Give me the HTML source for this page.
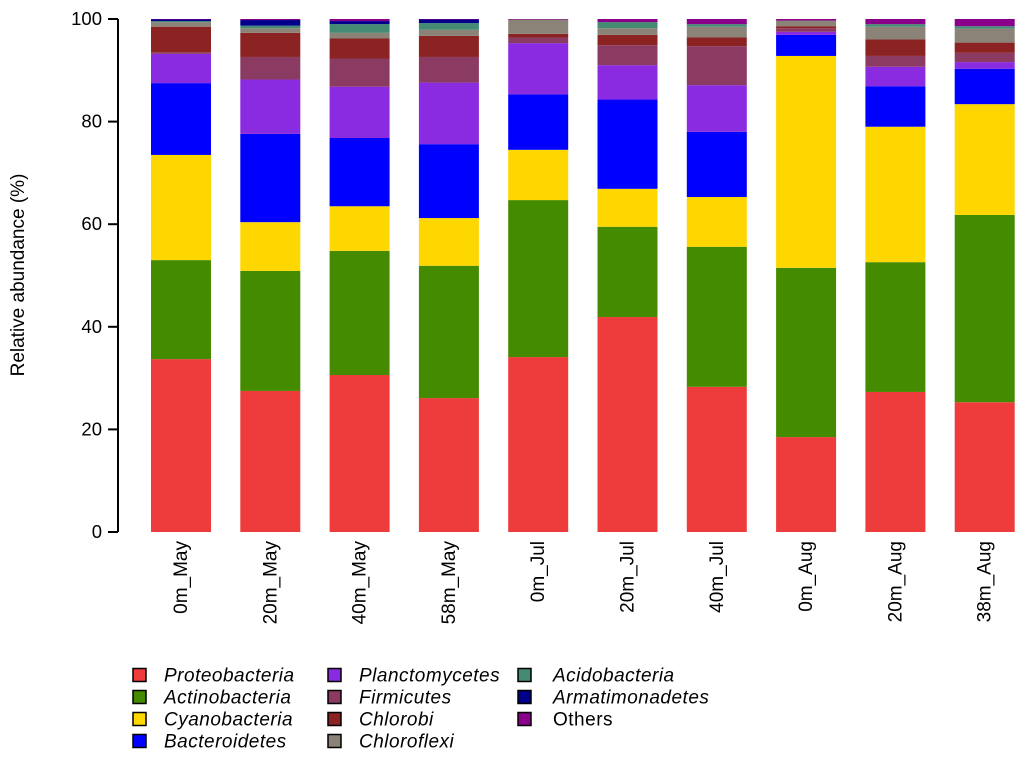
<!DOCTYPE html>
<html><head><meta charset="utf-8"><style>
body{margin:0;background:#fff;}
svg text{font-family:"Liberation Sans",Arial,sans-serif;fill:#000;}
</style></head><body>
<svg id="chart" width="1024" height="759" xmlns="http://www.w3.org/2000/svg">
<g id="axes"></g><g id="bars"></g><g id="legend"></g>
<text transform="translate(24,275) rotate(-90)" text-anchor="middle" font-size="19">Relative abundance (%)</text>
</svg>
<script>
const categories=["0m_May","20m_May","40m_May","58m_May","0m_Jul","20m_Jul","40m_Jul","0m_Aug","20m_Aug","38m_Aug"];
const seriesNames=["Proteobacteria","Actinobacteria","Cyanobacteria","Bacteroidetes","Planctomycetes","Firmicutes","Chlorobi","Chloroflexi","Acidobacteria","Armatimonadetes","Others"];
const proteobacteria=[33.7,27.5,30.6,26.1,34.1,41.9,28.3,18.5,27.3,25.3];
const actinobacteria=[19.3,23.4,24.2,25.8,30.6,17.6,27.3,33.0,25.3,36.5];
const cyanobacteria=[20.5,9.5,8.7,9.3,9.8,7.4,9.7,41.3,26.4,21.6];
const bacteroidetes=[14.0,17.2,13.3,14.4,10.8,17.4,12.7,4.1,7.9,6.9];
const planctomycetes=[5.7,10.6,10.0,12.0,10.0,6.7,9.1,0.6,3.8,1.3];
const firmicutes=[0.3,4.4,5.5,5.0,1.1,3.9,7.6,0.7,2.1,1.8];
const chlorobi=[5.0,4.7,3.9,4.1,0.7,2.0,1.7,0.4,3.2,2.0];
const chloroflexi=[0.9,0.9,1.1,1.2,2.8,1.3,2.1,1.1,2.5,2.7];
const acidobacteria=[0.2,0.5,1.7,1.3,0,1.2,0.5,0,0.5,0.5];
const armatimonadetes=[0.3,1.1,0.6,0.7,0,0,0,0,0,0];
const others=[0.1,0.2,0.4,0.1,0.1,0.6,1.0,0.3,1.0,1.4];
const yTicks=[0,20,40,60,80,100];
const series=[proteobacteria,actinobacteria,cyanobacteria,bacteroidetes,planctomycetes,firmicutes,chlorobi,chloroflexi,acidobacteria,armatimonadetes,others];
const colors=["#ee3b3b","#458b00","#ffd700","#0000ff","#8a2be2","#8b3a62","#8b2323","#8b8378","#458b74","#00008b","#8b008b"];
const NS="http://www.w3.org/2000/svg";
const y0=532,y1=19;
function yScale(v){return y0-(v/100)*(y0-y1);}
function xScale(i){return 151+i*89.3;}
const barW=60;
function mk(tag,attrs,parent){const e=document.createElementNS(NS,tag);for(const k in attrs)e.setAttribute(k,attrs[k]);parent.appendChild(e);return e;}
const axes=document.getElementById('axes');
let ax=mk('line',{x1:118,x2:118,y1:yScale(0),y2:yScale(100),stroke:'#000','stroke-width':2},axes);


yTicks.forEach(t=>{
 const l=mk('line',{x1:108,x2:118,y1:yScale(t),y2:yScale(t),stroke:'#000','stroke-width':2},axes);
 
 
 const tx=mk('text',{x:102,y:yScale(t)+6,'text-anchor':'end','font-size':18.5},axes);
 tx.textContent=t;
 
 
});
const bars=document.getElementById('bars');
categories.forEach((c,i)=>{
 let cum=0;
 series.forEach((s,k)=>{
  const v=s[i];
  if(v>0){
   const r=mk('rect',{x:xScale(i),y:yScale(cum+v),width:barW,height:yScale(cum)-yScale(cum+v),fill:colors[k]},bars);
   
   
  }
  cum+=v;
 });
 const cx=xScale(i)+barW/2;
 const t=mk('text',{transform:`translate(${cx+6},541) rotate(-90)`,'text-anchor':'end','font-size':19},bars);
 t.textContent=c;
 
 
});
const legend=document.getElementById('legend');
const colBox=[133,328,518],colText=[164,359,553];
seriesNames.forEach((n,k)=>{
 const col=Math.floor(k/4),row=k%4;
 const cy=675+row*22;
 const b=mk('rect',{x:colBox[col],y:cy-6.5,width:13,height:13,fill:colors[k],stroke:'#000','stroke-width':1.5},legend);
 
 
 const t=mk('text',{x:colText[col],y:cy+6.5,'font-size':19,'letter-spacing':0.5,'font-style':n==='Others'?'normal':'italic'},legend);
 t.textContent=n;
 
 
});
</script>
</body></html>
